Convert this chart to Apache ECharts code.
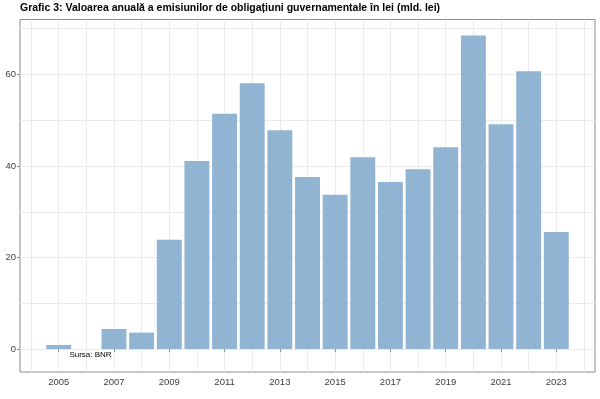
<!DOCTYPE html>
<html>
<head>
<meta charset="utf-8">
<script src="https://cdn.jsdelivr.net/npm/echarts@6/dist/echarts.min.js"></script>
<style>
  html, body { margin: 0; padding: 0; background: #fff; }
  #main { width: 600px; height: 399px; }
</style>
</head>
<body>
<div id="main"></div>
<script>
// data (mld. lei)
var years = [2005, 2006, 2007, 2008, 2009, 2010, 2011, 2012, 2013, 2014,
  2015, 2016, 2017, 2018, 2019, 2020, 2021, 2022, 2023]
var values = [0.9, null, 4.4, 3.6, 23.9, 41.1, 51.4, 58.1, 47.8, 37.6,
  33.7, 41.9, 36.5, 39.3, 44.1, 68.5, 49.1, 60.7, 25.6]
var xLabelYears = [2005, 2007, 2009, 2011, 2013, 2015, 2017, 2019, 2021, 2023]
var xGridYears = [2004, 2005, 2006, 2007, 2008, 2009, 2010, 2011, 2012, 2013, 2014,
  2015, 2016, 2017, 2018, 2019, 2020, 2021, 2022, 2023, 2024]
var yLabelValues = [0, 20, 40, 60]
var yGridValues = [0, 10, 20, 30, 40, 50, 60, 70]
var titleText = 'Grafic 3: Valoarea anuală a emisiunilor de obligațiuni guvernamentale în lei (mld. lei)'
var sourceText = 'Sursa: BNR'

var font = 'Liberation Sans, Arial, sans-serif'
var borderGray = '#8c8c8c'
var gridGray = '#ebebeb'
var labelColor = '#3d3d3d'

var chart = echarts.init(document.getElementById('main'), null, { renderer: 'canvas' })

var option = {
  animation: false,
  backgroundColor: '#ffffff',
  title: {
    text: titleText,
    left: 20,
    top: 3,
    padding: 0,
    textStyle: { fontFamily: font, fontSize: 10.5, fontWeight: 'bold', color: '#000' }
  },
  grid: {
    left: 20,
    right: 5,
    top: 19.5,
    bottom: 27,
    show: true,
    borderColor: borderGray,
    borderWidth: 1,
    backgroundColor: 'transparent'
  },
  xAxis: [
    {
      type: 'value',
      min: 2003.6,
      max: 2024.4,
      axisLine: { show: false },
      axisTick: { show: true, length: 3, customValues: xLabelYears, lineStyle: { color: borderGray } },
      axisLabel: {
        customValues: xLabelYears,
        formatter: function (v) { return String(v) },
        margin: 5,
        fontFamily: font,
        fontSize: 9.5,
        color: labelColor
      },
      splitLine: { show: false }
    },
    {
      type: 'value',
      min: 2003.6,
      max: 2024.4,
      axisLine: { show: false },
      axisTick: { show: false, customValues: xGridYears },
      axisLabel: { show: false },
      splitLine: { show: true, lineStyle: { color: gridGray, width: 1 } }
    }
  ],
  yAxis: [
    {
      type: 'value',
      min: -5,
      max: 72,
      axisLine: { show: false },
      axisTick: { show: true, length: 3, customValues: yLabelValues, lineStyle: { color: borderGray } },
      axisLabel: {
        customValues: yLabelValues,
        margin: 4,
        fontFamily: font,
        fontSize: 9.5,
        color: labelColor
      },
      splitLine: { show: false }
    },
    {
      type: 'value',
      min: -5,
      max: 72,
      axisLine: { show: false },
      axisTick: { show: false, customValues: yGridValues },
      axisLabel: { show: false },
      splitLine: { show: true, lineStyle: { color: gridGray, width: 1 } }
    }
  ],
  series: [
    {
      type: 'bar',
      xAxisIndex: 0,
      yAxisIndex: 0,
      barWidth: 24.9,
      itemStyle: { color: '#90b4d2' },
      data: years.map(function (y, i) { return [y, values[i]] }),
      markPoint: {
        symbol: 'circle',
        symbolSize: 0,
        silent: true,
        label: {
          show: true,
          position: 'inside',
          formatter: sourceText,
          fontFamily: font,
          fontSize: 8,
          color: '#000'
        },
        data: [{ coord: [2006.15, -1.3] }]
      }
    }
  ]
}

chart.setOption(option)
</script>
</body>
</html>
